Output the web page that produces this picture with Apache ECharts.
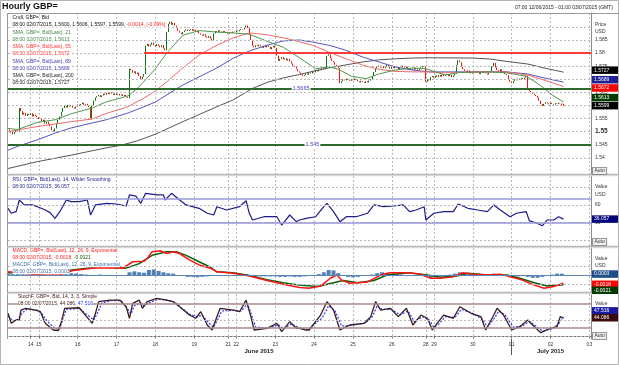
<!DOCTYPE html>
<html><head><meta charset="utf-8">
<script src="https://cdn.jsdelivr.net/npm/echarts@6/dist/echarts.min.js"></script>
<style>html,body{margin:0;padding:0;background:#fff;overflow:hidden}#chart{width:619px;height:365px}</style>
</head><body><div id="chart"></div>
<script>
// ---------------- DATA ----------------
const YEAR = '2015';
const sessions = [
  ['12','06',7,20],['14','06',19,23],['15','06',0,23],['16','06',0,23],['17','06',0,23],['18','06',0,23],['19','06',0,20],
  ['21','06',19,23],['22','06',0,23],['23','06',0,23],['24','06',0,23],['25','06',0,23],['26','06',0,20],
  ['28','06',19,23],['29','06',0,23],['30','06',0,23],['01','07',0,23],['02','07',0,23],['03','07',0,1]
];
const monthNames = {'06':'June 2015','07':'July 2015'};
const firstOpen = 1.5512;
const closes = [
1.5508,1.5497,1.5502,1.5490,1.5498,1.5505,1.5500,1.5590,1.5578,1.5565,
1.5572,1.5560,1.5568,1.5563,1.5570,1.5558,1.5565,1.5560,1.5555,1.5548,
1.5552,1.5540,1.5545,1.5530,1.5538,1.5528,1.5520,1.5505,1.5500,1.5512,
1.5530,1.5545,1.5558,1.5575,1.5590,1.5598,1.5592,1.5602,1.5596,1.5600,
1.5592,1.5588,1.5595,1.5603,1.5598,1.5605,1.5610,1.5602,1.5606,1.5600,
1.5594,1.5550,1.5600,1.5618,1.5630,1.5635,1.5640,1.5632,1.5638,1.5645,
1.5640,1.5648,1.5643,1.5650,1.5645,1.5640,1.5646,1.5641,1.5644,1.5638,
1.5642,1.5636,1.5640,1.5632,1.5628,1.5740,1.5735,1.5725,1.5730,1.5720,
1.5725,1.5712,1.5700,1.5710,1.5720,1.5828,1.5835,1.5825,1.5832,1.5840,
1.5830,1.5826,1.5834,1.5828,1.5822,1.5830,1.5818,1.5810,1.5880,1.5912,
1.5920,1.5908,1.5915,1.5905,1.5895,1.5885,1.5878,1.5872,1.5880,1.5886,
1.5890,1.5884,1.5888,1.5892,1.5885,1.5889,1.5880,1.5884,1.5875,1.5870,
1.5866,1.5872,1.5862,1.5858,1.5865,1.5855,1.5848,1.5875,1.5884,1.5880,
1.5887,1.5882,1.5878,1.5884,1.5880,1.5878,1.5874,1.5879,1.5876,1.5882,
1.5880,1.5886,1.5883,1.5888,1.5892,1.5890,1.5898,1.5905,1.5895,1.5870,
1.5850,1.5828,1.5822,1.5830,1.5826,1.5832,1.5825,1.5820,1.5828,1.5822,
1.5830,1.5824,1.5815,1.5822,1.5828,1.5820,1.5790,1.5770,1.5778,1.5784,
1.5776,1.5780,1.5772,1.5778,1.5768,1.5760,1.5752,1.5748,1.5740,1.5730,
1.5725,1.5718,1.5712,1.5716,1.5722,1.5718,1.5726,1.5722,1.5730,1.5726,
1.5734,1.5730,1.5738,1.5735,1.5742,1.5738,1.5745,1.5790,1.5795,1.5780,
1.5770,1.5765,1.5755,1.5748,1.5742,1.5685,1.5692,1.5700,1.5696,1.5702,
1.5698,1.5694,1.5700,1.5696,1.5702,1.5698,1.5692,1.5688,1.5694,1.5690,
1.5686,1.5692,1.5688,1.5695,1.5700,1.5712,1.5728,1.5740,1.5748,1.5752,
1.5745,1.5750,1.5742,1.5748,1.5755,1.5746,1.5740,1.5748,1.5742,1.5750,
1.5745,1.5738,1.5745,1.5752,1.5746,1.5740,1.5748,1.5742,1.5735,1.5740,
1.5736,1.5744,1.5738,1.5734,1.5740,1.5745,1.5750,1.5748,1.5690,1.5700,
1.5695,1.5708,1.5712,1.5706,1.5714,1.5708,1.5716,1.5710,1.5718,1.5712,
1.5716,1.5720,1.5712,1.5718,1.5708,1.5714,1.5722,1.5755,1.5772,1.5765,
1.5748,1.5738,1.5732,1.5726,1.5734,1.5728,1.5722,1.5730,1.5725,1.5732,
1.5726,1.5720,1.5728,1.5724,1.5730,1.5722,1.5718,1.5725,1.5730,1.5750,
1.5762,1.5745,1.5735,1.5728,1.5738,1.5725,1.5730,1.5720,1.5716,1.5700,
1.5690,1.5685,1.5694,1.5700,1.5696,1.5702,1.5698,1.5704,1.5700,1.5706,
1.5714,1.5662,1.5655,1.5650,1.5645,1.5640,1.5636,1.5630,1.5618,1.5605,
1.5598,1.5606,1.5612,1.5608,1.5604,1.5610,1.5606,1.5603,1.5608,1.5605,
1.5610,1.5608,1.5600,1.5599
];
const lastBarOHLC = [1.5600, 1.5606, 1.5597, 1.5599];
const lastChange = ['-0.0014', '(-0.09%)'];

const sma21 = [[0,1.5512],[6,1.5508],[18,1.5535],[29,1.5545],[39,1.5568],[52,1.5590],[60,1.5612],[74,1.5636],[80,1.5665],[87,1.5712],[91,1.5740],[98,1.5800],[108,1.5868],[118,1.5886],[129,1.5880],[139,1.5877],[149,1.5872],[160,1.5845],[170,1.5822],[180,1.5782],[190,1.5740],[198,1.5748],[204,1.5738],[212,1.5712],[221,1.5702],[229,1.5720],[239,1.5735],[250,1.5743],[258,1.5740],[270,1.5716],[279,1.5726],[298,1.5728],[308,1.5724],[320,1.5712],[329,1.5675],[336,1.5640],[343,1.5613]];
const sma55 = [[0,1.5500],[18,1.5519],[39,1.5538],[52,1.5548],[60,1.5568],[74,1.5595],[84,1.5628],[91,1.5655],[98,1.5690],[108,1.5743],[118,1.5793],[129,1.5830],[139,1.5858],[149,1.5877],[160,1.5870],[170,1.5858],[177,1.5848],[188,1.5830],[198,1.5804],[208,1.5780],[219,1.5754],[229,1.5738],[239,1.5730],[250,1.5728],[260,1.5728],[270,1.5724],[287,1.5728],[308,1.5728],[321,1.5716],[331,1.5697],[343,1.5672]];
const sma89 = [[0,1.5429],[8,1.5448],[18,1.5468],[29,1.5494],[39,1.5514],[52,1.5533],[60,1.5544],[74,1.5571],[84,1.5595],[91,1.5613],[98,1.5640],[108,1.5678],[118,1.5709],[129,1.5743],[139,1.5780],[149,1.5808],[160,1.5830],[170,1.5846],[180,1.5850],[188,1.5842],[198,1.5830],[208,1.5812],[219,1.5785],[229,1.5766],[239,1.5747],[250,1.5735],[260,1.5728],[270,1.5728],[287,1.5728],[308,1.5728],[321,1.5720],[331,1.5705],[343,1.5689]];
const sma200 = [[0,1.5359],[18,1.5385],[39,1.5410],[60,1.5437],[70,1.5448],[80,1.5465],[91,1.5490],[108,1.5538],[129,1.5595],[139,1.5621],[151,1.5665],[160,1.5688],[170,1.5705],[180,1.5718],[188,1.5730],[198,1.5743],[208,1.5754],[219,1.5766],[229,1.5774],[239,1.5778],[250,1.5781],[260,1.5782],[287,1.5781],[298,1.5777],[308,1.5768],[321,1.5758],[331,1.5743],[343,1.5727]];

const rsi = [[0,54.3],[2,45.9],[5,48.6],[7,68.3],[8,71.2],[10,60],[15,60],[19,56],[23,51.4],[26,47],[29,37.4],[32,48.6],[36,68.3],[39,65.5],[44,65.5],[49,68.3],[51,43],[54,60],[61,62.7],[67,61.6],[73,58.2],[75,76.8],[79,75],[82,62.7],[85,79.6],[92,76.8],[96,76.8],[97,68.3],[101,79.6],[106,68.3],[110,60],[118,54.3],[123,45.9],[127,43],[129,57],[135,51.4],[143,57],[147,67.1],[149,45.9],[151,34.6],[158,40.1],[166,40.1],[169,26.1],[174,43],[178,31.7],[180,34.6],[184,37.4],[190,40.1],[195,57],[197,62.7],[201,48.6],[205,31.7],[209,40.1],[215,40.1],[222,45.9],[226,60],[232,57],[238,58.2],[244,60],[248,48.6],[252,51.4],[257,57],[258,34.6],[263,45.9],[269,48.6],[275,48.6],[278,61.6],[284,54.3],[290,51.4],[296,48.6],[300,60],[304,51.4],[310,40.1],[314,45.9],[320,48.6],[322,33],[326,30],[330,24.9],[333,34.6],[337,34.6],[340,40.1],[343,36.057]];

const macd = [[0,0.0007],[10,0.0004],[20,0.0000],[32,0.0000],[40,0.0010],[52,0.0015],[60,0.0016],[71,0.0015],[77,0.0029],[84,0.0030],[86,0.0036],[89,0.0051],[94,0.0053],[98,0.0047],[102,0.0051],[106,0.0047],[112,0.0033],[118,0.0022],[125,0.0015],[129,0.0007],[139,0.0004],[149,-0.0002],[160,-0.0012],[170,-0.0020],[180,-0.0027],[186,-0.0029],[193,-0.0024],[199,-0.0007],[203,0.0000],[206,-0.0011],[211,-0.0018],[222,-0.0015],[230,0.0000],[236,0.0005],[247,0.0005],[255,0.0002],[261,-0.0007],[267,-0.0007],[275,-0.0004],[281,0.0005],[287,0.0002],[296,0.0000],[304,0.0002],[310,-0.0004],[316,-0.0009],[325,-0.0022],[331,-0.0029],[337,-0.0025],[343,-0.0018]];
const macdSignal = [[0,0.0005],[20,0.0002],[40,0.0011],[56,0.0018],[73,0.0015],[81,0.0025],[89,0.0043],[98,0.0051],[104,0.0051],[110,0.0043],[118,0.0029],[125,0.0017],[129,0.0007],[139,0.0005],[149,-0.0001],[160,-0.0010],[170,-0.0017],[180,-0.0022],[191,-0.0025],[201,-0.0017],[207,-0.0012],[216,-0.0017],[226,-0.0012],[234,0.0000],[247,0.0005],[259,0.0000],[267,-0.0005],[277,-0.0002],[284,0.0004],[296,0.0000],[308,0.0000],[316,-0.0007],[325,-0.0017],[333,-0.0024],[343,-0.0021]];
const macdHist = [[0,0.0002],[3,0.0002],[6,0.0003],[9,0.0002],[12,0.0001],[15,0.0000],[18,-0.0001],[21,-0.0001],[24,-0.0002],[27,-0.0002],[30,-0.0001],[33,0.0001],[36,0.0003],[39,0.0004],[42,0.0003],[45,0.0002],[48,0.0001],[51,-0.0002],[54,0.0000],[57,0.0001],[60,0.0000],[63,-0.0001],[66,-0.0001],[69,-0.0002],[72,-0.0002],[75,0.0006],[78,0.0008],[81,0.0006],[84,0.0005],[87,0.0011],[90,0.0012],[93,0.0009],[96,0.0006],[99,0.0004],[102,0.0003],[105,0.0000],[108,-0.0002],[111,-0.0004],[114,-0.0004],[117,-0.0005],[120,-0.0004],[123,-0.0003],[126,-0.0002],[129,0.0000],[132,0.0000],[135,-0.0001],[138,-0.0001],[141,0.0000],[144,0.0001],[147,0.0002],[150,-0.0002],[153,-0.0003],[156,-0.0003],[159,-0.0003],[162,-0.0003],[165,-0.0003],[168,-0.0004],[171,-0.0004],[174,-0.0003],[177,-0.0004],[180,-0.0004],[183,-0.0003],[186,-0.0002],[189,0.0000],[192,0.0002],[195,0.0006],[198,0.0011],[201,0.0010],[204,0.0004],[207,-0.0002],[210,-0.0004],[213,-0.0005],[216,-0.0004],[219,-0.0002],[222,-0.0001],[225,0.0001],[228,0.0004],[231,0.0006],[234,0.0005],[237,0.0003],[240,0.0002],[243,0.0001],[246,0.0000],[249,0.0000],[252,-0.0001],[255,0.0000],[258,-0.0004],[261,-0.0006],[264,-0.0005],[267,-0.0003],[270,-0.0001],[273,0.0001],[276,0.0003],[279,0.0006],[282,0.0005],[285,0.0003],[288,0.0001],[291,0.0000],[294,-0.0001],[297,0.0000],[300,0.0003],[303,0.0002],[306,0.0000],[309,-0.0002],[312,-0.0003],[315,-0.0003],[318,-0.0002],[321,-0.0004],[324,-0.0006],[327,-0.0006],[330,-0.0004],[333,-0.0001],[336,0.0001],[339,0.0003],[342,0.0003]];

const stochK = [[0,56.3],[2,31.6],[5,39.8],[7,40],[8,64.4],[11,68.6],[17,64.4],[20,60.2],[23,31.6],[28,15],[31,13.3],[33,35.6],[35,68.6],[44,70],[52,31.6],[54,56.3],[56,85],[63,89],[69,89],[73,72.6],[75,44],[77,81],[81,89],[83,68.6],[86,85],[92,93.3],[98,89],[102,85],[106,72.6],[112,52],[116,44],[119,60.2],[123,27.4],[126,15],[129,48],[131,68.6],[139,64.4],[143,60.2],[147,89],[150,48],[152,15],[160,19.3],[166,31.6],[169,10.9],[174,35.6],[178,19.3],[180,19.3],[184,15],[186,15],[193,52],[197,85],[201,64.4],[205,15],[211,27.4],[220,31.6],[224,48],[227,85],[230,64.4],[236,68.6],[241,48],[246,68.6],[250,27.4],[255,52],[259,44],[262,15],[265,31.6],[269,52],[275,44],[279,72.6],[286,56.3],[292,48],[295,15],[300,52],[302,68.6],[306,52],[311,15],[316,23.2],[321,39.8],[325,23.2],[329,8.5],[335,19.3],[339,23.2],[341,48],[343,44.086]];
const stochD = [[0,50],[3,38],[6,40],[9,58],[12,67],[18,64],[21,55],[24,38],[29,18],[32,18],[34,45],[36,66],[44,68],[53,40],[55,55],[58,82],[64,88],[70,87],[74,66],[76,55],[78,75],[82,82],[84,75],[87,82],[93,91],[99,88],[103,84],[107,70],[113,52],[117,48],[120,52],[124,32],[127,22],[130,45],[132,62],[140,64],[144,62],[148,80],[151,45],[153,22],[161,20],[167,28],[170,18],[175,30],[179,22],[185,16],[194,45],[198,75],[202,62],[206,25],[212,26],[221,33],[225,48],[228,75],[231,66],[237,66],[242,52],[247,62],[251,35],[256,48],[260,40],[263,22],[266,30],[270,48],[276,46],[280,66],[287,56],[293,42],[296,22],[301,48],[303,62],[307,52],[312,22],[317,24],[322,36],[326,25],[330,12],[336,18],[340,30],[343,47.516]];

const priceTicks = [1.54,1.545,1.55,1.555,1.56,1.565,1.57,1.575,1.58,1.585,1.59];
const priceTickLabels = ['1.54','1.545','1.55','1.555','1.56','1.565','1.57','1.575','1.58','1.585',''];
const rsiTicks = [0,30,60,90];
const rsiTickLabels = ['','30','60',''];
const rsiBands = [70,30];
const macdTicks = [-0.002,0.002];
const stochTicks = [0,40];
const stochBands = [80,20];
const resistanceLevel = 1.58, resistanceFrom = '17/06 17:00';
const supportLevels = [1.5665, 1.545];
const supportLabels = ['1.5665','1.545'];

// ---------------- BUILD ----------------
const FONT = '"Liberation Sans", Arial, sans-serif';
const categories = [], catDay = [], catMonth = [];
sessions.forEach(([d,m,h0,h1]) => { for (let h=h0; h<=h1; h++){ categories.push(d+'/'+m+' '+String(h).padStart(2,'0')+':00'); catDay.push(d); catMonth.push(m);} });
const isDayStart = categories.map((c,i)=> i>0 && catDay[i]!==catDay[i-1]);
const isMonthStart = categories.map((c,i)=> i>0 && catMonth[i]!==catMonth[i-1]);
const monthCenter = {};
{ let s=0; for (let i=1;i<=categories.length;i++){ if (i===categories.length || catMonth[i]!==catMonth[i-1]) { monthCenter[Math.floor((s+i-1)/2)] = monthNames[catMonth[s]]; s=i; } } }
const stamp = c => c.slice(6)+' '+c.slice(0,5)+'/'+YEAR;
const lastIdx = closes.length-1;
const lastStamp = stamp(categories[lastIdx]);

const candles = closes.map((c,i)=>{
  if (i===lastIdx) return [lastBarOHLC[0], lastBarOHLC[3], lastBarOHLC[2], lastBarOHLC[1]];
  const o = i===0 ? firstOpen : closes[i-1];
  return [o, c, Math.min(o,c), Math.max(o,c)];
});

const dotted = {color:'#b9b9b9', width:1, type:[2,2]};
function xAxisFor(grid, bottom){
  return {type:'category', gridIndex:grid, data:categories, boundaryGap:false,
    axisLine:{show:bottom, lineStyle:{color:'#777'}},
    axisTick:{show:bottom, interval:(i)=>isDayStart[i], length:2, lineStyle:{color:'#777'}},
    axisLabel:{show:bottom, interval:(i)=>isDayStart[i], formatter:(v)=>v.slice(0,2), fontSize:5, color:'#333', margin:3, fontFamily:FONT},
    splitLine:{show:true, interval:(i)=>isDayStart[i], lineStyle:dotted}};
}
function yAxisFor(grid,min,max){
  return {type:'value', gridIndex:grid, min, max, position:'right', axisLine:{show:true, lineStyle:{color:'#8a8a8a'}}, axisTick:{show:false}, axisLabel:{show:false}, splitLine:{show:false}};
}
function gridLines(ai, items){
  return {type:'line', xAxisIndex:ai, yAxisIndex:ai, data:[], z:1, silent:true,
    markLine:{silent:true, symbol:'none', animation:false, precision:6, lineStyle:dotted,
      label:{show:true, position:'end', formatter:'{b}', fontSize:5, color:'#333', distance:4, fontFamily:FONT},
      data:items}};
}
const lineS = (ai, data, color, width, extra) => Object.assign({type:'line', xAxisIndex:ai, yAxisIndex:ai, data, showSymbol:false, symbol:'none', silent:true, animation:false, lineStyle:{color, width}}, extra||{});

const option = {
  animation:false,
  backgroundColor:'#fff',
  grid:[
    {left:8, right:28, top:13, height:161},
    {left:8, right:28, top:176, height:70},
    {left:8, right:28, top:248, height:44},
    {left:8, right:28, top:294, height:45}
  ],
  xAxis:[ xAxisFor(0,false), xAxisFor(1,false), xAxisFor(2,false), xAxisFor(3,true),
    {type:'category', gridIndex:3, data:categories, boundaryGap:false, position:'bottom', offset:0,
     axisLine:{show:false}, axisTick:{show:true, interval:(i)=>isMonthStart[i], length:16, lineStyle:{color:'#555'}},
     axisLabel:{show:true, interval:(i)=> (i in monthCenter), formatter:(v,i)=>monthCenter[i]||'', fontSize:6, fontWeight:'bold', color:'#222', margin:9, fontFamily:FONT},
     splitLine:{show:false}}
  ],
  yAxis:[ yAxisFor(0,1.5338,1.5953), yAxisFor(1,-9.3,108.8), yAxisFor(2,-0.0037,0.0059), yAxisFor(3,-7.2,104) ],
  series:[
    gridLines(0, priceTicks.map((v,i)=>({yAxis:v, name:priceTickLabels[i], label: v===1.55?{fontWeight:'bold',fontSize:6.5}:{}}))),
    {type:'candlestick', xAxisIndex:0, yAxisIndex:0, data:candles, barWidth:1, silent:true,
     itemStyle:{color:'#127312', color0:'#ff1010', borderColor:'#127312', borderColor0:'#ff1010', borderWidth:1},
     markLine:{silent:true, symbol:'none', animation:false, precision:6, label:{show:false},
       data:[
         [{coord:[resistanceFrom,resistanceLevel], lineStyle:{color:'#ff3a3a', width:2, type:'solid'}},
          {coord:[categories[categories.length-1],resistanceLevel], lineStyle:{color:'#ff3a3a', width:2, type:'solid'}}],
         ...supportLevels.map(v=>({yAxis:v, lineStyle:{color:'#2e6a2e', width:2, type:'solid'}}))
       ]}},
    lineS(0, sma200, '#555555', 1),
    lineS(0, sma89, '#5555c4', 1),
    lineS(0, sma55, '#f26a6a', 1),
    lineS(0, sma21, '#4e984e', 1),
    gridLines(1, rsiTicks.map((v,i)=>({yAxis:v, name:rsiTickLabels[i]})).concat(rsiBands.map(v=>({yAxis:v, name:'', lineStyle:{color:'#9898d8', width:1.5, type:'solid'}})))),
    lineS(1, rsi, '#1b1b8c', 1.2),
    gridLines(2, macdTicks.map(v=>({yAxis:v, name:''})).concat([{yAxis:0, name:'', lineStyle:{color:'#5b86b6', width:1, type:'solid'}}])),
    {type:'bar', xAxisIndex:2, yAxisIndex:2, data:macdHist, barWidth:4, silent:true, itemStyle:{color:'#4f7fb5'}},
    lineS(2, macdSignal, '#0b5c0b', 1.5),
    lineS(2, macd, '#ff1414', 1.5),
    gridLines(3, stochTicks.map(v=>({yAxis:v, name:''})).concat(stochBands.map(v=>({yAxis:v, name:'', lineStyle:{color:'#a88888', width:1.5, type:'solid'}})))),
    lineS(3, stochD, '#3333ff', 1.2, {lineStyle:{color:'#3333ff', width:1.2, type:[2,1.5]}, z:3}),
    lineS(3, stochK, '#3a1c1c', 1.3)
  ]
};

const chart = echarts.init(document.getElementById('chart'), null, {renderer:'canvas'});
chart.setOption(option);

// ---------------- DECORATIONS ----------------
const yPx = (a,v)=>chart.convertToPixel({yAxisIndex:a}, v);
const xPx = (i)=>chart.convertToPixel({xAxisIndex:0}, i);
const G = [];
const T = (x,y,text,fill,o)=>G.push({type:'text', z:100, x, y, silent:true, style:Object.assign({text, fill, fontSize:5, fontFamily:FONT, align:'left', verticalAlign:'middle'}, o||{})});
const L = (x1,y1,x2,y2,stroke,w)=>G.push({type:'line', z:90, silent:true, shape:{x1,y1,x2,y2}, style:{stroke, lineWidth:w||1}});
const BOX = (y,text,bg)=>G.push({type:'text', z:101, x:592, y, silent:true, style:{text, fill:'#fff', fontSize:5, fontFamily:FONT, backgroundColor:bg, padding:[1.5,2,1,2], width:22, align:'left', verticalAlign:'middle'}});
const AUTO = (y)=>G.push({type:'text', z:101, x:593, y, silent:true, style:{text:'Auto', fill:'#333', fontSize:5, fontFamily:FONT, borderColor:'#777', borderWidth:0.8, padding:[0.5,1.5], align:'left', verticalAlign:'middle', backgroundColor:'#eee'}});

G.push({type:'rect', z:90, silent:true, shape:{x:0.5,y:0.5,width:618,height:364}, style:{fill:null, stroke:'#b4b4b4', lineWidth:1}});
L(7.5,13,7.5,339,'#9a9a9a',1);
L(7,13.5,619,13.5,'#9a9a9a',1);
[175,247,293].forEach(y=>{ L(7,y-0.7,619,y-0.7,'#a8a8a8',1); L(7,y+0.7,619,y+0.7,'#cfcfcf',1); });

T(2,7,'Hourly GBP=','#111',{fontSize:9, fontWeight:'bold'});
T(613,7.5, stamp(categories[0])+' - '+stamp(categories[categories.length-1])+' (GMT)','#222',{align:'right'});

T(595,25,'Price','#333'); T(595,32,'USD','#333');
T(595,187,'Value','#333'); T(595,195,'USD','#333');
T(595,259,'Value','#333'); T(595,266,'USD','#333');
T(595,304,'Value','#333');

const f4 = v=>v.toFixed(4);
const last = a=>a[a.length-1][1];
const bgw = {backgroundColor:'#fff'};
const py0 = 17.7, pst = 7.25;
T(12.5,py0,'Cndl, GBP=, Bid','#111',bgw);
T(12.5,py0+pst,'{k|'+lastStamp+', '+lastBarOHLC.map(f4).join(', ')+', }{r|'+lastChange.join(', ')+'}','#111',
  Object.assign({rich:{k:{fill:'#111',fontSize:5,fontFamily:FONT},r:{fill:'#ff2020',fontSize:5,fontFamily:FONT}}},bgw));
[[21,sma21,'#3f8a3f'],[55,sma55,'#ff3535'],[89,sma89,'#3c3cae'],[200,sma200,'#222']].forEach((s,k)=>{
  T(12.5,py0+pst*(2+2*k),'SMA, GBP=, Bid(Last), '+s[0],s[2],bgw);
  T(12.5,py0+pst*(3+2*k),lastStamp+', '+f4(last(s[1])),s[2],bgw);
});
T(12.5,179.3,'RSI, GBP=, Bid(Last), 14, Wilder Smoothing','#1b1b8c',bgw);
T(12.5,186.8,lastStamp+', '+last(rsi).toFixed(3),'#1b1b8c',bgw);
T(12.5,250.7,'MACD, GBP=, Bid(Last), 12, 26, 9, Exponential','#ff2020',bgw);
T(12.5,257.7,'{r|'+lastStamp+', '+f4(last(macd))+', }{g|'+f4(last(macdSignal))+'}','#ff2020',
  Object.assign({rich:{r:{fill:'#ff2020',fontSize:5,fontFamily:FONT},g:{fill:'#0b5c0b',fontSize:5,fontFamily:FONT}}},bgw));
T(12.5,264.7,'MACDF, GBP=, Bid(Last), 12, 26, 9, Exponential','#3f6fa8',bgw);
T(12.5,271.7,lastStamp+', '+f4(last(macdHist)),'#3f6fa8',bgw);
T(18,296.7,'StochF, GBP=, Bid, 14, 3, 3, Simple','#4a2222',bgw);
T(18,303.3,'{k|'+lastStamp+', '+last(stochK).toFixed(3)+', }{d|'+last(stochD).toFixed(3)+'}','#4a2222',
  Object.assign({rich:{k:{fill:'#4a2222',fontSize:5,fontFamily:FONT},d:{fill:'#3333ff',fontSize:5,fontFamily:FONT}}},bgw));

T(xPx(181), yPx(0,supportLevels[0]), supportLabels[0], '#4040c0', {align:'center', backgroundColor:'#fff', padding:[0,1], fontSize:5.5});
T(xPx(188), yPx(0,supportLevels[1]), supportLabels[1], '#4040c0', {align:'center', backgroundColor:'#fff', padding:[0,1], fontSize:5.5});

BOX(yPx(0,last(sma200))-2, f4(last(sma200)), '#000');
BOX(yPx(0,last(sma89))-2.4, f4(last(sma89)), '#1f1f96');
BOX(yPx(0,last(sma55))+1.4, f4(last(sma55)), '#ff0000');
BOX(yPx(0,last(sma21))-4.4, f4(last(sma21)), '#003c00');
BOX(yPx(0,closes[lastIdx]), f4(closes[lastIdx]), '#000');
BOX(yPx(1,last(rsi)), last(rsi).toFixed(3), '#00007a');
BOX(yPx(2,last(macdHist))+0.4, f4(last(macdHist)), '#1f4f8a');
BOX(yPx(2,last(macd))+1, f4(last(macd)), '#ff0000');
BOX(yPx(2,last(macdSignal))+5.6, f4(last(macdSignal)), '#003c00');
BOX(yPx(3,last(stochD))-6, last(stochD).toFixed(3), '#1a1aa0');
BOX(yPx(3,last(stochK))-0.5, last(stochK).toFixed(3), '#3a0a0a');
AUTO(171); AUTO(242); AUTO(336);

chart.setOption({graphic:G});
</script></body></html>
